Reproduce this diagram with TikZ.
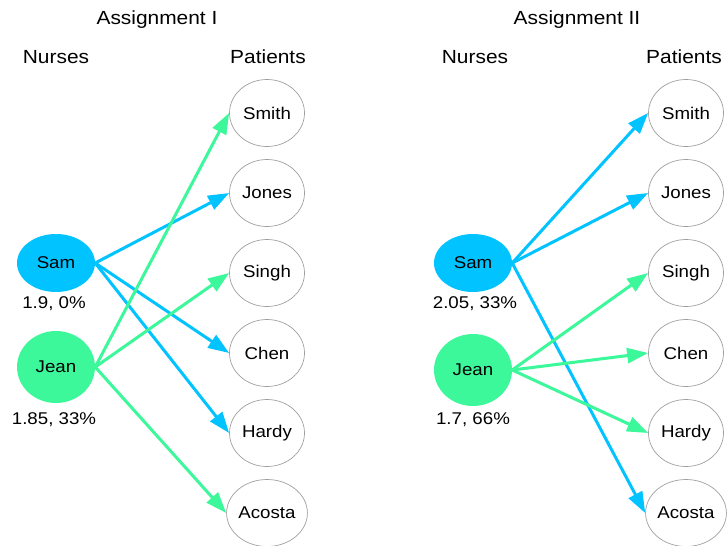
\documentclass[tikz,border=0pt]{standalone}
\usepackage{fontspec}
\setmainfont{Liberation Sans}[FakeStretch=1.1]
\usetikzlibrary{shapes.geometric,arrows.meta}
\definecolor{samblue}{RGB}{0,195,255}
\definecolor{jeangreen}{RGB}{60,248,155}
\tikzset{
    header/.style={font=\fontsize{19}{22}\selectfont},
    patient/.style={ellipse, draw=gray!75, line width=0.7pt, minimum width=75pt, minimum height=67pt, inner sep=0pt, font=\fontsize{17}{20}\selectfont},
    nurse/.style={ellipse, minimum width=78pt, inner sep=0pt, font=\fontsize{17}{20}\selectfont},
    score/.style={font=\fontsize{17}{20}\selectfont},
    link/.style={line width=3pt, -{Triangle[length=21pt,width=15pt]}},
}
\begin{document}
\begin{tikzpicture}[x=1pt,y=-1pt]
    \useasboundingbox (0,0) rectangle (728,546);
    % Assignment I
    \node[header] (titleI) at (157,20) {Assignment I};
    \node[header] (nursesI) at (56,57) {Nurses};
    \node[header] (patientsI) at (268,57) {Patients};
    \foreach \name/\y in {Smith/113,Jones/193,Singh/273,Chen/353,Hardy/433,Acosta/513}
        \node[patient] (I\name) at (267,\y) {\name};
    \node[nurse, fill=samblue, minimum height=58pt] (ISam) at (56,263) {Sam};
    \node[nurse, fill=jeangreen, minimum height=72pt] (IJean) at (56,367) {Jean};
    \node[score] (scoreISam) at (54,304) {1.9, 0\%};
    \node[score] (scoreIJean) at (54,420) {1.85, 33\%};
    \foreach \p in {Jones,Chen,Hardy}
        \draw[link, samblue] (ISam.east) -- (I\p.west);
    \foreach \p in {Smith,Singh,Acosta}
        \draw[link, jeangreen] (IJean.east) -- (I\p.west);
    % Assignment II
    \node[header] (titleII) at (577,20) {Assignment II};
    \node[header] (nursesII) at (475,57) {Nurses};
    \node[header] (patientsII) at (684,57) {Patients};
    \foreach \name/\y in {Smith/113,Jones/193,Singh/273,Chen/353,Hardy/433,Acosta/513}
        \node[patient] (II\name) at (686,\y) {\name};
    \node[nurse, fill=samblue, minimum height=58pt] (IISam) at (473,263) {Sam};
    \node[nurse, fill=jeangreen, minimum height=72pt] (IIJean) at (473,370) {Jean};
    \node[score] (scoreIISam) at (475,304) {2.05, 33\%};
    \node[score] (scoreIIJean) at (473,420) {1.7, 66\%};
    \foreach \p in {Smith,Jones,Acosta}
        \draw[link, samblue] (IISam.east) -- (II\p.west);
    \foreach \p in {Singh,Chen,Hardy}
        \draw[link, jeangreen] (IIJean.east) -- (II\p.west);
\end{tikzpicture}
\end{document}
